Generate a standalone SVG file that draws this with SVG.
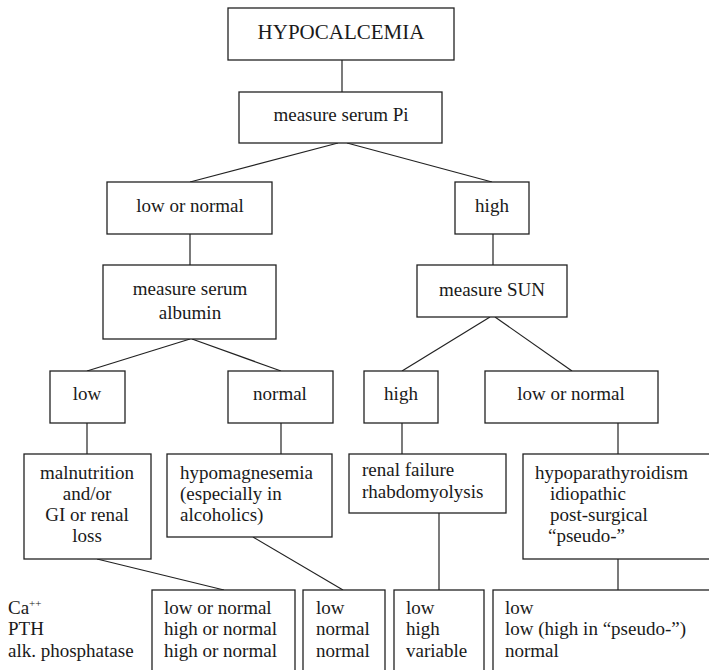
<svg xmlns="http://www.w3.org/2000/svg" width="709" height="670" viewBox="0 0 709 670">
<style>
rect{fill:#fff;stroke:#222;stroke-width:1.3}
line{stroke:#222;stroke-width:1.2}
text{font-family:"Liberation Serif","Times New Roman",serif;font-size:19px;fill:#1a1a1a}
.c{text-anchor:middle}
.big{font-size:21px}
</style>
<rect x="0" y="0" width="709" height="670" style="fill:#fff;stroke:none"/>
<g id="connectors">
<line x1="342" y1="60" x2="342" y2="92"/>
<line x1="338" y1="143" x2="190" y2="182"/>
<line x1="347" y1="143" x2="492" y2="182"/>
<line x1="190" y1="234" x2="190" y2="265"/>
<line x1="493" y1="234" x2="493" y2="265"/>
<line x1="190" y1="339" x2="87" y2="371"/>
<line x1="192" y1="339" x2="281" y2="371"/>
<line x1="490" y1="317" x2="402" y2="371"/>
<line x1="495" y1="317" x2="572" y2="371"/>
<line x1="87" y1="423" x2="87" y2="454"/>
<line x1="281" y1="423" x2="281" y2="454"/>
<line x1="402" y1="423" x2="402" y2="454"/>
<line x1="618" y1="423" x2="618" y2="454"/>
<line x1="97" y1="559" x2="224" y2="590"/>
<line x1="253" y1="537" x2="343" y2="590"/>
<line x1="439" y1="513" x2="439" y2="590"/>
<line x1="618" y1="559" x2="618" y2="590"/>
</g>
<g id="hypocalcemia"><rect x="228" y="8" width="226" height="52"/><text class="c big" x="341" y="39">HYPOCALCEMIA</text></g>
<g id="measure-pi"><rect x="239" y="92" width="203" height="51"/><text class="c" x="341" y="121">measure serum Pi</text></g>
<g id="pi-low-normal"><rect x="107" y="182" width="165" height="52"/><text class="c" x="190" y="212">low or normal</text></g>
<g id="pi-high"><rect x="455" y="182" width="74" height="52"/><text class="c" x="492" y="212">high</text></g>
<g id="measure-albumin"><rect x="103" y="265" width="173" height="74"/><text class="c" x="190" y="295">measure serum</text><text class="c" x="190" y="319">albumin</text></g>
<g id="measure-sun"><rect x="417" y="265" width="150" height="52"/><text class="c" x="492" y="296">measure SUN</text></g>
<g id="alb-low"><rect x="50" y="371" width="75" height="52"/><text class="c" x="87" y="400">low</text></g>
<g id="alb-normal"><rect x="228" y="371" width="105" height="52"/><text class="c" x="280" y="400">normal</text></g>
<g id="sun-high"><rect x="364" y="371" width="74" height="52"/><text class="c" x="401" y="400">high</text></g>
<g id="sun-low-normal"><rect x="485" y="371" width="173" height="52"/><text class="c" x="571" y="400">low or normal</text></g>
<g id="malnutrition"><rect x="24" y="454" width="127" height="105"/>
<text class="c" x="87" y="479">malnutrition</text><text class="c" x="87" y="500">and/or</text><text class="c" x="87" y="521">GI or renal</text><text class="c" x="87" y="542">loss</text></g>
<g id="hypomagnesemia"><rect x="167" y="454" width="165" height="83"/>
<text x="180" y="479">hypomagnesemia</text><text x="180" y="500">(especially in</text><text x="180" y="521">alcoholics)</text></g>
<g id="renal-failure"><rect x="349" y="454" width="157" height="59"/>
<text x="362" y="476">renal failure</text><text x="362" y="498">rhabdomyolysis</text></g>
<g id="hypoparathyroidism"><rect x="523" y="454" width="195" height="105"/>
<text x="535" y="479">hypoparathyroidism</text><text x="550" y="500">idiopathic</text><text x="550" y="521">post-surgical</text><text x="548" y="542">“pseudo-”</text></g>
<g id="row-labels"><text x="8" y="614">Ca<tspan font-size="11" dy="-7">++</tspan></text><text x="8" y="635">PTH</text><text x="8" y="657">alk. phosphatase</text></g>
<g id="res-malnutrition"><rect x="152" y="590" width="143" height="95"/>
<text x="164" y="614">low or normal</text><text x="164" y="635">high or normal</text><text x="164" y="657">high or normal</text></g>
<g id="res-hypomagnesemia"><rect x="303" y="590" width="82" height="95"/>
<text x="316" y="614">low</text><text x="316" y="635">normal</text><text x="316" y="657">normal</text></g>
<g id="res-renal"><rect x="394" y="590" width="90" height="95"/>
<text x="406" y="614">low</text><text x="406" y="635">high</text><text x="406" y="657">variable</text></g>
<g id="res-hypopara"><rect x="493" y="590" width="225" height="95"/>
<text x="505" y="614">low</text><text x="505" y="635">low (high in “pseudo-”)</text><text x="505" y="657">normal</text></g>
</svg>
